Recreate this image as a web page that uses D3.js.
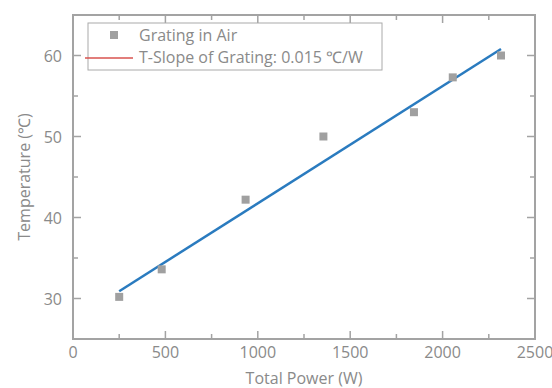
<!DOCTYPE html>
<html>
<head>
<meta charset="utf-8">
<script src="https://cdn.jsdelivr.net/npm/d3@7"></script>
<style>
  body { margin: 0; background: #fff; }
  text { font-family: "Open Sans", sans-serif; fill: #8a8a8a; }
</style>
</head>
<body>
<div id="chart"></div>
<script>
// measured points
const power = [250, 480, 934, 1355, 1845, 2055, 2316];
const temperature = [30.2, 33.6, 42.2, 50.0, 53.0, 57.3, 60.0];
// linear fit at its two ends
const fitPower = [250, 2316];
const fitTemperature = [30.9, 60.8];
const xTicks = [0, 500, 1000, 1500, 2000, 2500];
const yTicks = [30, 40, 50, 60];
const legendLabels = ['Grating in Air', 'T-Slope of Grating: 0.015 \u2103/W'];

const W = 552, H = 388;
const margin = { top: 15, right: 17, bottom: 49, left: 73 };
const width = W - margin.left - margin.right;
const height = H - margin.top - margin.bottom;
const frame = '#a3a3a3';
const fs = '16px';

const svg = d3.select('#chart').append('svg')
  .attr('width', W)
  .attr('height', H);

const g = svg.append('g')
  .attr('transform', `translate(${margin.left},${margin.top})`);

const x = d3.scaleLinear().domain([0, 2500]).range([0, width]);
const y = d3.scaleLinear().domain([25, 65]).range([height, 0]);

const xMinor = d3.range(250, 2500, 500);
const yMinor = d3.range(25, 66, 10).filter(v => v > 25 && v < 65);

// ticks, all pointing inward, mirrored on top and right
function ticks(sel, scale, values, len, side) {
  sel.selectAll(null).data(values).enter().append('line')
    .attr('stroke', frame)
    .attr('stroke-width', 1.5)
    .each(function (d) {
      const l = d3.select(this);
      const p = scale(d);
      if (side === 'bottom') l.attr('x1', p).attr('x2', p).attr('y1', height).attr('y2', height - len);
      if (side === 'top') l.attr('x1', p).attr('x2', p).attr('y1', 0).attr('y2', len);
      if (side === 'left') l.attr('y1', p).attr('y2', p).attr('x1', 0).attr('x2', len);
      if (side === 'right') l.attr('y1', p).attr('y2', p).attr('x1', width).attr('x2', width - len);
    });
}
const tg = g.append('g').attr('class', 'ticks');
['bottom', 'top'].forEach(s => {
  ticks(tg, x, xTicks.slice(1, -1), 8, s);
  ticks(tg, x, xMinor, 5, s);
});
['left', 'right'].forEach(s => {
  ticks(tg, y, yTicks, 8, s);
  ticks(tg, y, yMinor, 5, s);
});

// frame
g.append('rect')
  .attr('width', width)
  .attr('height', height)
  .attr('fill', 'none')
  .attr('stroke', frame)
  .attr('stroke-width', 2);

// tick labels
g.append('g').selectAll('text').data(xTicks).enter().append('text')
  .attr('x', d => x(d))
  .attr('y', height + 19)
  .attr('text-anchor', 'middle')
  .style('font-size', fs)
  .text(d => d);

g.append('g').selectAll('text').data(yTicks).enter().append('text')
  .attr('x', -11)
  .attr('y', d => y(d) + 6)
  .attr('text-anchor', 'end')
  .style('font-size', fs)
  .text(d => d);

// axis titles
g.append('text')
  .attr('x', width / 2)
  .attr('y', height + 45)
  .attr('text-anchor', 'middle')
  .style('font-size', fs)
  .text('Total Power (W)');

g.append('text')
  .attr('transform', `translate(${-43},${height / 2}) rotate(-90)`)
  .attr('text-anchor', 'middle')
  .style('font-size', fs)
  .text('Temperature (\u2103)');

// fit line
const line = d3.line()
  .x(d => x(d[0]))
  .y(d => y(d[1]));

g.append('path')
  .datum(d3.zip(fitPower, fitTemperature))
  .attr('d', line)
  .attr('fill', 'none')
  .attr('stroke', '#2a7bbf')
  .attr('stroke-width', 2.5);

// points
const size = 8;
g.append('g').selectAll('rect').data(d3.zip(power, temperature)).enter().append('rect')
  .attr('x', d => x(d[0]) - size / 2)
  .attr('y', d => y(d[1]) - size / 2)
  .attr('width', size)
  .attr('height', size)
  .attr('fill', '#a0a0a0');

// legend
const lg = svg.append('g').attr('transform', 'translate(88,23)');
lg.append('rect')
  .attr('width', 294)
  .attr('height', 47)
  .attr('fill', '#fff')
  .attr('stroke', '#aaaaaa')
  .attr('stroke-width', 1);
lg.append('rect')
  .attr('x', 22).attr('y', 8)
  .attr('width', 8).attr('height', 8)
  .attr('fill', '#a0a0a0');
lg.append('line')
  .attr('x1', -3).attr('x2', 45)
  .attr('y1', 35).attr('y2', 35)
  .attr('stroke', '#d9534f')
  .attr('stroke-width', 1.5);
lg.selectAll('text.lab').data(legendLabels).enter().append('text')
  .attr('class', 'lab')
  .attr('x', 51)
  .attr('y', (d, i) => 18 + i * 22)
  .style('font-size', fs)
  .text(d => d);
</script>
</body>
</html>
